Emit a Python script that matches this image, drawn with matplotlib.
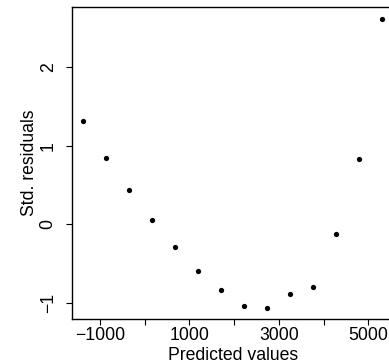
import matplotlib
matplotlib.use("Agg")
import matplotlib.pyplot as plt

# Data
predicted = [-1373, -859, -344, 163, 678, 1186, 1700, 2215, 2730, 3245, 3760, 4275, 4789, 5304]
std_resid = [1.312, 0.848, 0.433, 0.055, -0.289, -0.595, -0.841, -1.041, -1.066, -0.892, -0.795, -0.120, 0.832, 2.619]
xticks = [-1000, 0, 1000, 2000, 3000, 4000, 5000]
xticklabels = ["\u22121000", "", "1000", "", "3000", "", "5000"]
yticks = [-1, 0, 1, 2]
yticklabels = ["\u22121", "0", "1", "2"]

W, H = 389, 364
plt.rcParams['font.family'] = ['Liberation Sans', 'DejaVu Sans']
fig = plt.figure(figsize=(W / 100, H / 100), dpi=100)

left_px, right_px, top_px, bottom_px = 72, 394, 7, 319
ax = fig.add_axes([left_px / W, 1 - bottom_px / H, (right_px - left_px) / W, (bottom_px - top_px) / H])

ax.plot(predicted, std_resid, 'o', color='black', ms=3.8, mew=0)

# limits from the pixel scale of the reference
px_per_x = 44.7 / 1000
px_per_y = 78.5
ax.set_xlim(-1000 - (100 - left_px) / px_per_x, -1000 + (right_px - 100) / px_per_x)
ax.set_ylim(-1 - (bottom_px - 302.7) / px_per_y, -1 + (302.7 - top_px) / px_per_y)

ax.set_xticks(xticks)
ax.set_xticklabels(xticklabels)
ax.set_yticks(yticks)
ax.set_yticklabels(yticklabels, rotation=90, va='center')

fs = 12.7
ax.tick_params(axis='both', direction='out', length=4.0, width=0.8, labelsize=fs, color='black')
ax.tick_params(axis='x', pad=1.5)
ax.tick_params(axis='y', pad=7)
for s in ax.spines.values():
    s.set_linewidth(1.0)

ax.set_xlabel("Predicted values", fontsize=fs, va='center')
ax.set_ylabel("Std. residuals", fontsize=fs, va='center')
ax.xaxis.set_label_coords(233 / W, 1 - 356 / H, transform=fig.transFigure)
ax.yaxis.set_label_coords(29 / W, 1 - 163 / H, transform=fig.transFigure)

fig.savefig("out.png", dpi=100)
